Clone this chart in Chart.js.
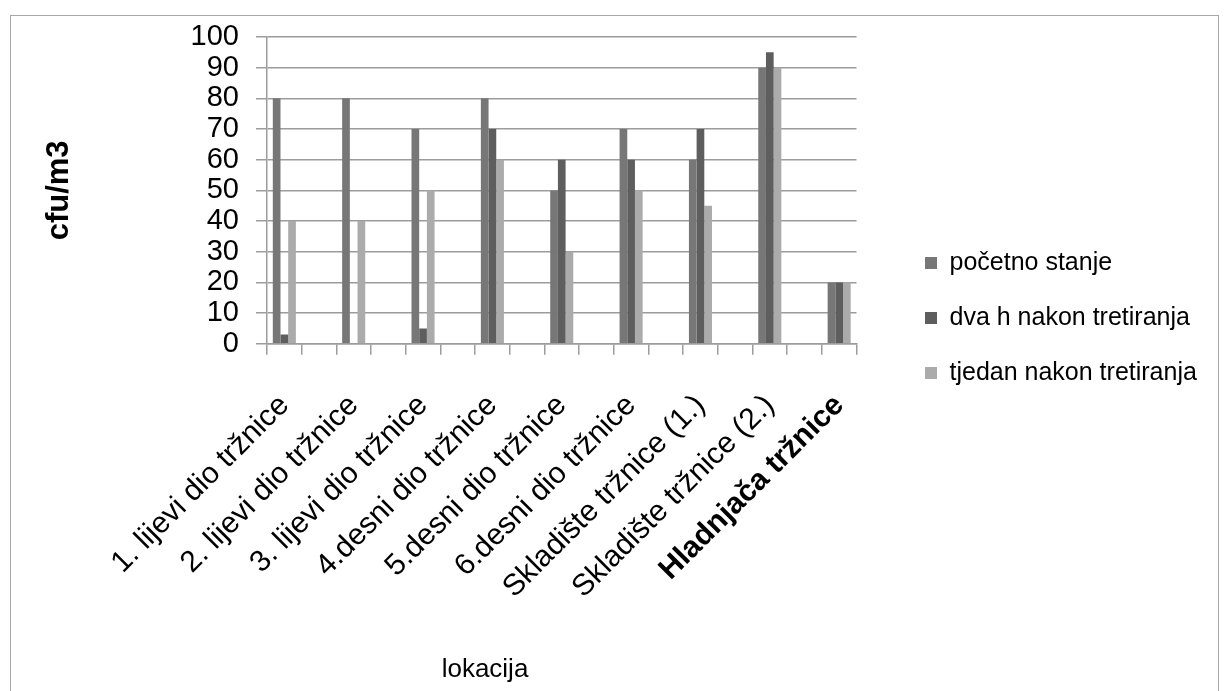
<!DOCTYPE html>
<html>
<head>
<meta charset="utf-8">
<title>cfu/m3 po lokaciji</title>
<script src="https://cdn.jsdelivr.net/npm/chart.js@4.4.1/dist/chart.umd.min.js"></script>
<style>
  html, body { margin: 0; padding: 0; background: #fff; overflow: hidden; }
  #wrap { position: relative; width: 1225px; height: 691px; }
  #frame { position: absolute; left: 10px; top: 15px; width: 1209px; height: 700px; border: 1px solid #a8a8a8; box-sizing: border-box; }
  canvas { position: absolute; left: 0; top: 0; }
</style>
</head>
<body>
<div id="wrap">
  <div id="frame"></div>
  <canvas id="myChart" width="1225" height="691"></canvas>
</div>
<script>
const locations = [
  '1. lijevi dio tržnice',
  '2. lijevi dio tržnice',
  '3. lijevi dio tržnice',
  '4.desni dio tržnice',
  '5.desni dio tržnice',
  '6.desni dio tržnice',
  'Skladište tržnice (1.)',
  'Skladište tržnice (2.)',
  'Hladnjača tržnice'
];
const seriesNames = ['početno stanje', 'dva h nakon tretiranja', 'tjedan nakon tretiranja'];
const pocetnoStanje = [80, 80, 70, 80, 50, 70, 60, 90, 20];
const dvaSata = [3, 0, 5, 70, 60, 60, 70, 95, 20];
const tjedanDana = [40, 40, 50, 60, 30, 50, 45, 90, 20];
const yTicks = [0, 10, 20, 30, 40, 50, 60, 70, 80, 90, 100];

const FONT = "'Liberation Sans', Arial, sans-serif";
const GRID = '#9c9c9c';

// the original sheet has an empty category between every location
function withGaps(arr, blank) {
  const out = [];
  arr.forEach((v, i) => {
    if (i > 0) out.push(blank);
    out.push(v);
  });
  return out;
}

// put the legend and the axis caption where the original has them
const placeBoxes = {
  id: 'placeBoxes',
  afterLayout(chart) {
    const lg = chart.legend;
    const pad = lg.options.labels.padding;
    const dx = 925 - pad - lg.left;
    const dy = 263 - 12.5 - pad - lg.top;
    lg.left += dx;
    lg.right = chart.width;   // no clipping of the longest label
    lg.top += dy;
    lg.bottom += dy;

    const tb = chart.titleBlock;
    tb.left = 385;
    tb.right = 585;
  }
};

function createBarChart() {
  const data = {
    labels: withGaps(locations, ''),
    datasets: [
      { label: seriesNames[0], data: withGaps(pocetnoStanje, null), backgroundColor: '#777777' },
      { label: seriesNames[1], data: withGaps(dvaSata, null), backgroundColor: '#5e5e5e' },
      { label: seriesNames[2], data: withGaps(tjedanDana, null), backgroundColor: '#ababab' }
    ]
  };

  const config = {
    type: 'bar',
    data: data,
    options: {
      responsive: false,
      animation: false,
      devicePixelRatio: 1,
      layout: { padding: { top: 37, left: 0, right: 83, bottom: 0 } },
      datasets: { bar: { barPercentage: 1, categoryPercentage: 0.665, borderWidth: 0 } },
      scales: {
        x: {
          offset: true,
          grid: { drawOnChartArea: false, tickLength: 11, color: GRID, lineWidth: 1.5 },
          border: { color: GRID, width: 1.5 },
          ticks: {
            autoSkip: false,
            minRotation: 45,
            maxRotation: 45,
            padding: 33,
            color: '#000',
            font: (ctx) => ({ family: FONT, size: 30, weight: ctx.index === 16 ? 'bold' : 'normal' })
          },
          afterFit: (scale) => { scale.height = 310; }
        },
        y: {
          min: 0,
          max: 100,
          afterBuildTicks: (scale) => { scale.ticks = yTicks.map((v) => ({ value: v })); },
          grid: { tickLength: 11, color: GRID, lineWidth: 1.5 },
          border: { color: GRID, width: 1.5 },
          ticks: { autoSkip: false, padding: 17, color: '#000', font: { family: FONT, size: 29 } },
          title: {
            display: true,
            text: 'cfu/m3',
            color: '#000',
            font: { family: FONT, size: 31, weight: 'bold' },
            padding: { top: 41, bottom: 0 }
          },
          afterFit: (scale) => { scale.width = 267; }
        }
      },
      plugins: {
        // x axis caption, Excel puts it left of the plot centre
        title: {
          display: true,
          position: 'bottom',
          text: 'lokacija',
          color: '#000',
          font: { family: FONT, size: 26, weight: 'normal' },
          padding: { top: 0, bottom: 6 }
        },
        legend: {
          position: 'right',
          align: 'start',
          labels: {
            boxWidth: 12,
            boxHeight: 12,
            padding: 30,
            color: '#000',
            font: { family: FONT, size: 25 }
          }
        },
        tooltip: { enabled: false }
      }
    },
    plugins: [placeBoxes]
  };

  const ctx = document.getElementById('myChart').getContext('2d');
  return new Chart(ctx, config);
}

createBarChart();
</script>
</body>
</html>
